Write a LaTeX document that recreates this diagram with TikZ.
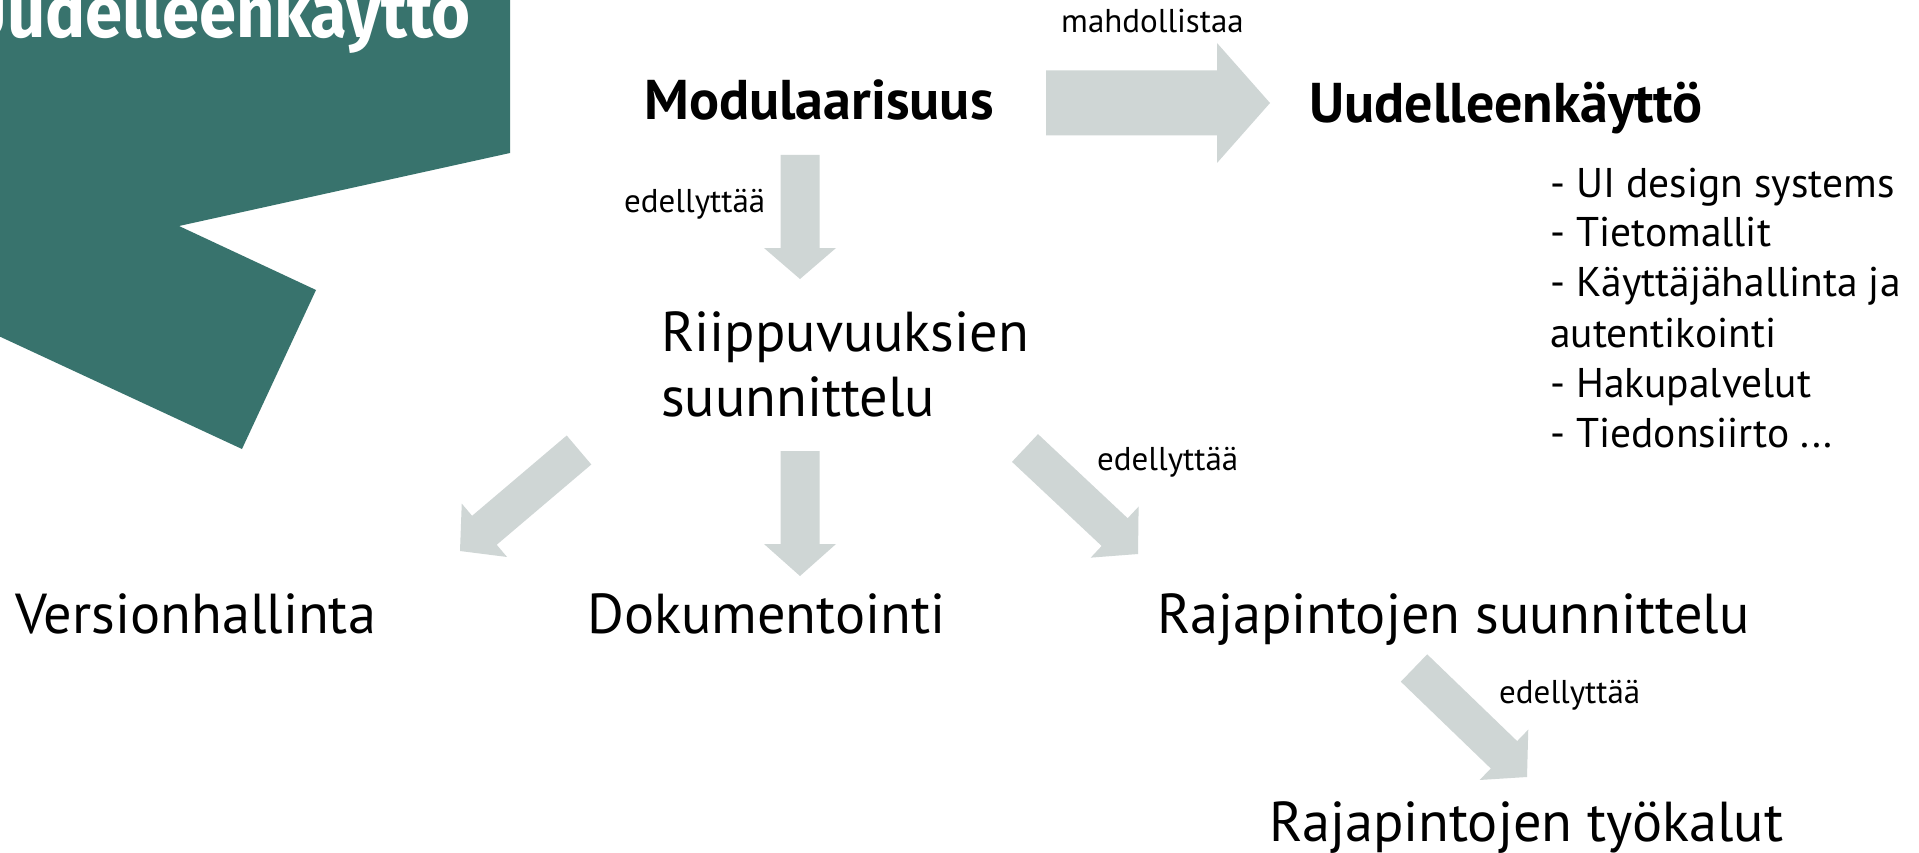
\documentclass[tikz,border=0pt]{standalone}
\usepackage{fontspec}
\setmainfont{PT Sans}
\newfontfamily\titlefont{Fira Sans}
\usetikzlibrary{calc}
\definecolor{teal}{RGB}{56,115,109}
\definecolor{arrowgray}{RGB}{207,214,213}
\newcommand\blockarrow[5]{% tail, tip, half shaft, half head, head length
  \coordinate (#1#2b) at ($(#2)!#5!(#1)$);
  \fill[arrowgray] ($(#1)!#3!90:(#2)$) -- ($(#1#2b)!#3!90:(#2)$) -- ($(#1#2b)!#4!90:(#2)$) -- (#2)
    -- ($(#1#2b)!#4!-90:(#2)$) -- ($(#1#2b)!#3!-90:(#2)$) -- ($(#1)!#3!-90:(#2)$) -- cycle;}
\begin{document}
\begin{tikzpicture}[x=1pt,y=-1pt,
  lbl/.style={anchor=base west,inner sep=0pt,font=\fontsize{56.3}{65}\selectfont},
  bigbold/.style={anchor=base west,inner sep=0pt,font=\fontsize{56}{65}\selectfont\bfseries},
  small/.style={anchor=base west,inner sep=0pt,font=\fontsize{33}{40}\selectfont},
  listtxt/.style={anchor=base west,inner sep=0pt,font=\fontsize{41.5}{50}\selectfont}]
\useasboundingbox (0,0) rectangle (1919,853);
\clip (0,0) rectangle (1919,853);
\fill[white] (0,0) rectangle (1919,853);
% teal shape
\fill[teal] (-10,-10) -- (510,-10) -- (510,153) -- (179,226) -- (316,290) -- (242,449) -- (-10,332) -- cycle;
\node[anchor=base east,inner sep=0pt,text=white,font=\titlefont\bfseries\fontsize{72}{80}\selectfont] (title) at (471,38) {\scalebox{0.93}[1]{Uudelleenkäyttö}};
% texts
\node[bigbold] (mod) at (644,120) {Modulaarisuus};
\node[bigbold] (uud) at (1309,123) {Uudelleenkäyttö};
\node[small] (mah) at (1061,33) {mahdollistaa};
\node[small] (ed1) at (624,212) {edellyttää};
\node[lbl] (rii) at (661,351) {\vtop{\hbox{Riippuvuuksien}\hbox{suunnittelu}}};
\node[listtxt] (list) at (1550,197) {\vtop{\hbox{- UI design systems}\hbox{- Tietomallit}\hbox{- Käyttäjähallinta ja}\hbox{autentikointi}\hbox{- Hakupalvelut}\hbox{- Tiedonsiirto ...}}};
\node[lbl] (ver) at (15,633) {Versionhallinta};
\node[lbl] (dok) at (587,633) {Dokumentointi};
\node[lbl] (raj) at (1157,633) {Rajapintojen suunnittelu};
\node[small] (ed2) at (1097,470) {edellyttää};
\node[small] (ed3) at (1499,703) {edellyttää};
\node[lbl] (tyo) at (1269,841) {Rajapintojen työkalut};
% arrow endpoints
\coordinate (a1s) at (800,155); \coordinate (a1e) at (800,279);
\coordinate (a2s) at (1046,103); \coordinate (a2e) at (1270,103);
\coordinate (a3s) at (579,450); \coordinate (a3e) at (460,551);
\coordinate (a4s) at (800,451); \coordinate (a4e) at (800,576);
\coordinate (a5s) at (1025,448); \coordinate (a5e) at (1138,554);
\coordinate (a6s) at (1414,668); \coordinate (a6e) at (1527,777);
\blockarrow{a1s}{a1e}{19.5pt}{36pt}{31pt}
\blockarrow{a2s}{a2e}{32.5pt}{60pt}{53pt}
\blockarrow{a3s}{a3e}{19pt}{35pt}{32pt}
\blockarrow{a4s}{a4e}{19.5pt}{36pt}{32pt}
\blockarrow{a5s}{a5e}{19pt}{35pt}{32pt}
\blockarrow{a6s}{a6e}{19pt}{35pt}{32pt}
\end{tikzpicture}
\end{document}
